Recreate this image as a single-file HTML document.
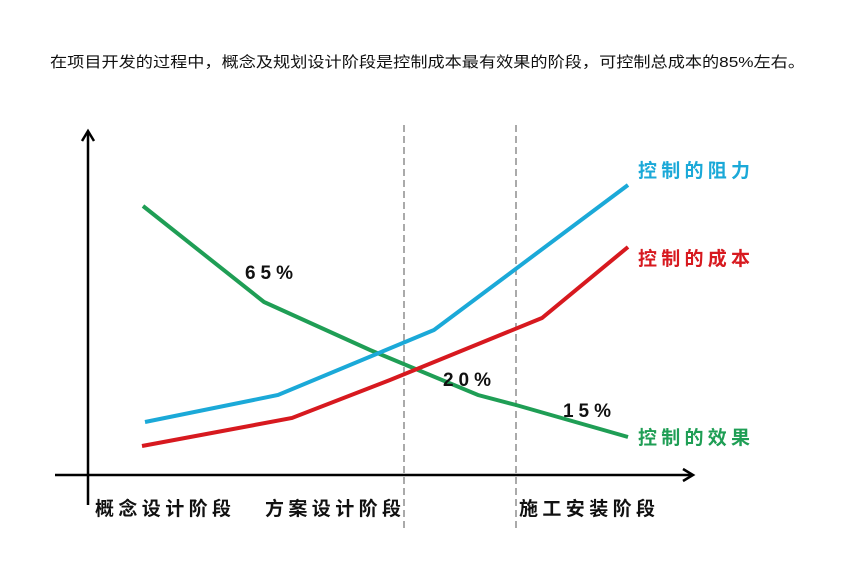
<!DOCTYPE html>
<html><head><meta charset="utf-8"><style>
body{margin:0;background:#fff;}
svg{display:block;}
text{font-family:"Liberation Sans","Noto Sans CJK SC",sans-serif;}
</style></head><body>
<svg width="852" height="564" viewBox="0 0 852 564">
<text x="50" y="67" font-size="15" fill="#111" textLength="755" lengthAdjust="spacingAndGlyphs">在项目开发的过程中，概念及规划设计阶段是控制成本最有效果的阶段，可控制总成本的85%左右。</text>
<line x1="404" y1="125" x2="404" y2="532" stroke="#aaa" stroke-width="2" stroke-dasharray="7,4"/>
<line x1="516" y1="125" x2="516" y2="532" stroke="#aaa" stroke-width="2" stroke-dasharray="7,4"/>
<line x1="88" y1="132" x2="88" y2="505" stroke="#000" stroke-width="2.5"/>
<polyline points="82,141 88,131 94,141" fill="none" stroke="#000" stroke-width="2.5"/>
<line x1="55" y1="475" x2="692" y2="475" stroke="#000" stroke-width="2.5"/>
<polyline points="683,469 693,475 683,481" fill="none" stroke="#000" stroke-width="2.5"/>
<polyline points="143,206 264,302 370,350 478,395 516,405 628,437" fill="none" stroke="#1f9e55" stroke-width="4"/>
<polyline points="145,422 278,395 434,330 628,185" fill="none" stroke="#1ba9d8" stroke-width="4"/>
<polyline points="142,446 292,418 390,380 542,318 628,247" fill="none" stroke="#d7191f" stroke-width="4"/>
<g font-size="19" font-weight="bold">
<text x="638" y="177" fill="#1ba9d8" textLength="112">控制的阻力</text>
<text x="638" y="265" fill="#d7191f" textLength="112">控制的成本</text>
<text x="638" y="444" fill="#1f9e55" textLength="112">控制的效果</text>
<text x="95" y="515" fill="#111" textLength="136">概念设计阶段</text>
<text x="265" y="515" fill="#111" textLength="136">方案设计阶段</text>
<text x="519" y="515" fill="#111" textLength="136">施工安装阶段</text>
</g>
<g font-size="19" font-weight="bold" fill="#111">
<text x="245" y="279" textLength="48">65%</text>
<text x="443" y="386" textLength="48">20%</text>
<text x="563" y="417" textLength="48">15%</text>
</g>
</svg>
</body></html>
